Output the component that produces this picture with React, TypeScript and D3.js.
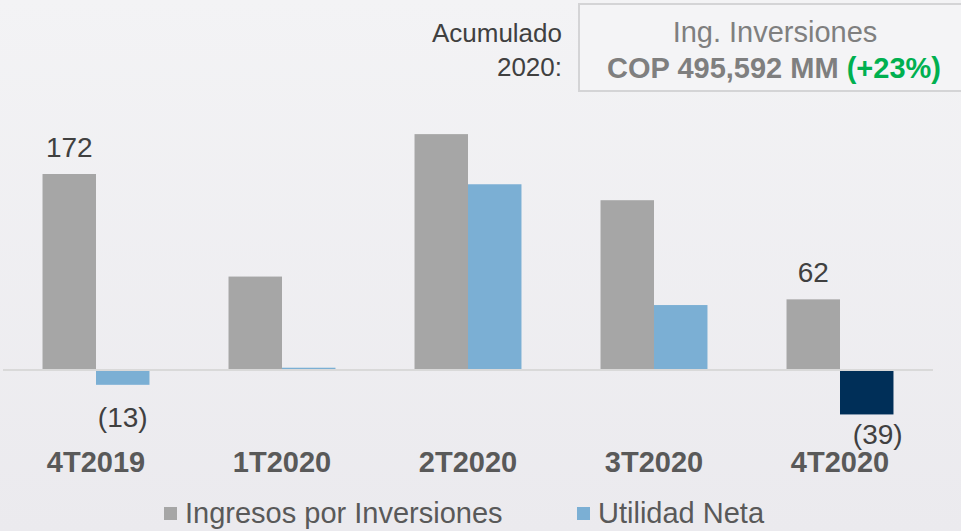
import React from "react";
import * as d3 from "d3";

const categories = ["4T2019", "1T2020", "2T2020", "3T2020", "4T2020"];
const ingresos = [172, 82, 207, 149, 62];
const utilidad = [-13, 2, 163, 57, -39];
const ingresosLabels = ["172", "", "", "", "62"];
const utilidadLabels = ["(13)", "", "", "", "(39)"];
const seriesNames = ["Ingresos por Inversiones", "Utilidad Neta"];
const headerLeft = ["Acumulado", "2020:"];
const headerTitle = "Ing. Inversiones";
const headerValue = "COP 495,592 MM";
const headerChange = "(+23%)";

const W = 961;
const H = 531;
const FONT = "'Liberation Sans', Arial, sans-serif";

export default function App() {
  const x = d3.scaleBand<string>().domain(categories).range([3, 933]).paddingInner(0.425).paddingOuter(0.2125);
  const sub = d3.scaleBand<string>().domain(["ing", "util"]).range([0, x.bandwidth()]);
  const y = d3.scaleLinear().domain([-50, 220]).range([370 + 50 * 1.1395, 370 - 220 * 1.1395]);
  const y0 = y(0);

  const utilColor = (i: number) => (i === categories.length - 1 ? "#002f58" : "#7bafd4");

  return (
    <svg width={W} height={H} style={{ position: "fixed", left: 0, top: 0, display: "block" }} fontFamily={FONT}>
      <defs>
        <linearGradient id="bg" x1="0" y1="0" x2="0" y2="1">
          <stop offset="0" stopColor="#f3f3f5" />
          <stop offset="1" stopColor="#ebeaee" />
        </linearGradient>
      </defs>
      <rect x={0} y={0} width={W} height={H} fill="url(#bg)" />

      {/* header */}
      <text x={562} y={42} textAnchor="end" fontSize={26} fill="#404040">{headerLeft[0]}</text>
      <text x={562} y={76} textAnchor="end" fontSize={26} fill="#404040">{headerLeft[1]}</text>
      <rect x={579} y={4} width={400} height={87} fill="#f4f4f6" stroke="#d4d4d6" strokeWidth={2} />
      <text x={775} y={42} textAnchor="middle" fontSize={29} fill="#7f7f7f">{headerTitle}</text>
      <text x={774} y={78} textAnchor="middle" fontSize={29} fontWeight="bold" fill="#7f7f7f">
        {headerValue + " "}
        <tspan fill="#00b050">{headerChange}</tspan>
      </text>

      {/* bars */}
      {categories.map((c, i) => {
        const bx = x(c)!;
        const gi = ingresos[i];
        const gu = utilidad[i];
        return (
          <g key={c}>
            <rect x={bx + sub("ing")!} y={Math.min(y(gi), y0)} width={sub.bandwidth()} height={Math.abs(y(gi) - y0)} fill="#a6a6a6" />
            <rect x={bx + sub("util")!} y={Math.min(y(gu), y0)} width={sub.bandwidth()} height={Math.abs(y(gu) - y0)} fill={utilColor(i)} />
          </g>
        );
      })}

      {/* axis line */}
      <line x1={3} x2={933} y1={y0} y2={y0} stroke="#d9d9d9" strokeWidth={2} />

      {/* value labels */}
      {categories.map((c, i) => {
        const bx = x(c)!;
        return (
          <g key={"l" + c} fontSize={28} fill="#404040">
            {ingresosLabels[i] && (
              <text x={bx + sub("ing")! + sub.bandwidth() / 2} y={y(ingresos[i]) - 17} textAnchor="middle">{ingresosLabels[i]}</text>
            )}
            {utilidadLabels[i] && (
              <text x={bx + sub("util")! + sub.bandwidth() / 2 + (i === 4 ? 11 : 0)} y={y(utilidad[i]) + (i === 4 ? 30 : 42)} textAnchor="middle">{utilidadLabels[i]}</text>
            )}
          </g>
        );
      })}

      {/* category labels */}
      {categories.map((c) => (
        <text key={"c" + c} x={x(c)! + x.bandwidth() / 2} y={472} textAnchor="middle" fontSize={29} fontWeight="bold" fill="#595959">{c}</text>
      ))}

      {/* legend */}
      <rect x={164} y={507} width={13} height={13} fill="#a6a6a6" />
      <text x={185} y={523} fontSize={29} fill="#595959">{seriesNames[0]}</text>
      <rect x={577} y={507} width={13} height={13} fill="#7bafd4" />
      <text x={598} y={523} fontSize={29} fill="#595959">{seriesNames[1]}</text>
    </svg>
  );
}
